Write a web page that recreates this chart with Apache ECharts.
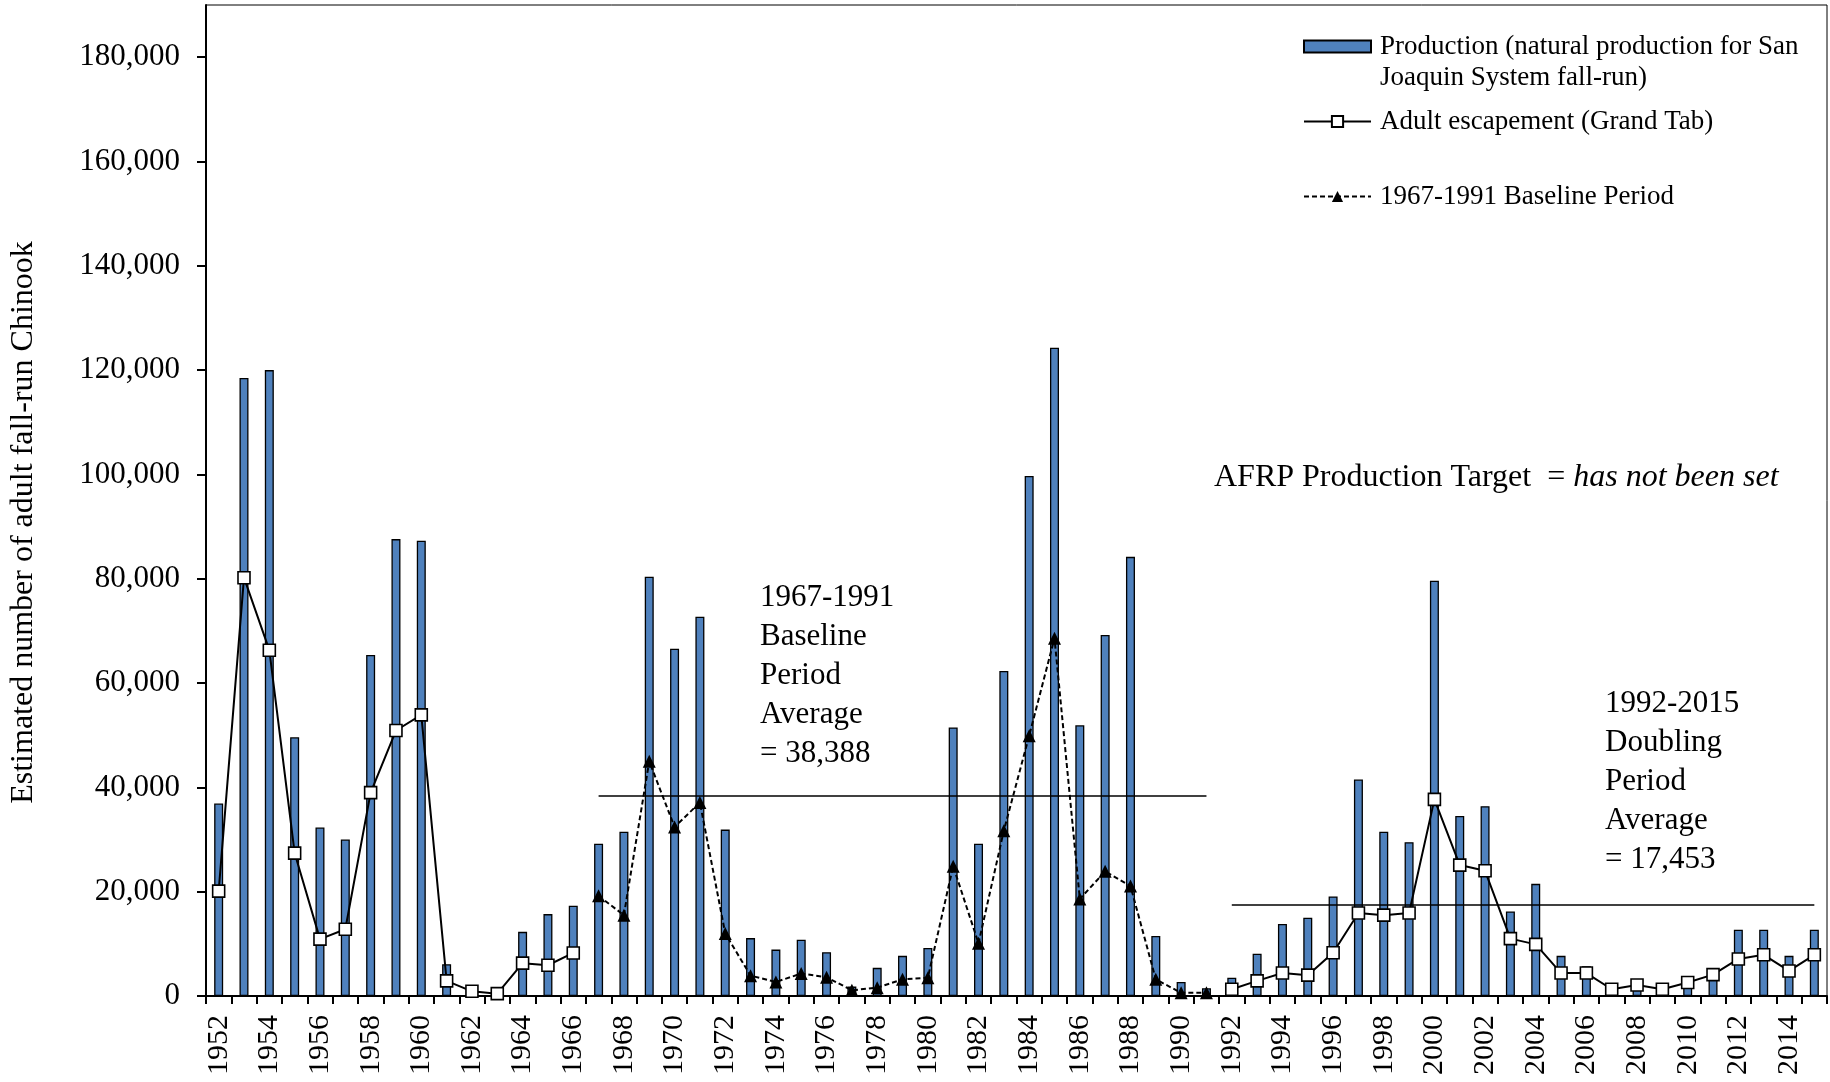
<!DOCTYPE html>
<html>
<head>
<meta charset="utf-8">
<title>San Joaquin System fall-run Chinook</title>
<script src="https://cdn.jsdelivr.net/npm/echarts@6/dist/echarts.min.js"></script>
<style>
  html, body { margin: 0; padding: 0; background: #ffffff; }
  #chart { width: 1830px; height: 1082px; }
</style>
</head>
<body>
<div id="chart"></div>
<script>
// Years on the category axis
const years = [];
for (let y = 1952; y <= 2015; y++) years.push(String(y));

// Natural production, San Joaquin System fall-run (1952-2015)
const production = [
  36900, 118500, 120000, 49600, 32300, 30000, 65400, 87600, 87300, 6100,
  300, 200, 12300, 15700, 17300, 29200, 31500, 80400, 66600, 72700,
  31900, 11100, 8900, 10800, 8400, 1800, 5400, 7700, 9200, 51500,
  29200, 62300, 99700, 124300, 51900, 69200, 84200, 11500, 2700, 1500,
  3500, 8100, 13800, 15000, 19100, 41500, 31500, 29500, 79600, 34500,
  36400, 16200, 21500, 7700, 5700, 1200, 1400, 500, 2800, 5300,
  12700, 12700, 7700, 12700
];

// Adult escapement (Grand Tab) outside the baseline period
const escapementEarly = [ // 1952-1966
  20100, 80200, 66300, 27400, 10900, 12800, 39000, 50900, 53900, 2900,
  900, 450, 6300, 5900, 8250
];
const escapementLate = [ // 1992-2015
  1300, 2900, 4400, 4000, 8300, 15900, 15500, 15900, 37700, 25100,
  24000, 11000, 9900, 4400, 4400, 1300, 2100, 1300, 2600, 4100,
  7100, 7900, 4800, 7900
];

// Adult escapement during the 1967-1991 baseline period
const escapementBaseline = [
  19200, 15500, 45000, 32400, 37100, 12000, 3900, 2700, 4300, 3600,
  1100, 1600, 3200, 3500, 24900, 10100, 31700, 49900, 68600, 18600,
  23900, 21100, 3200, 600, 600
];

// Period averages of production
const baselineAverage = 38388;   // 1967-1991
const doublingAverage = 17453;   // 1992-2015
const baselineRange = ['1967', '1991'];
const doublingRange = ['1992', '2015'];

// Value axis ticks
const yMin = 0, yMax = 190000, yStep = 20000;

const NAME_PROD = 'Production (natural production for San Joaquin System fall-run)';
const NAME_ESC = 'Adult escapement (Grand Tab)';
const NAME_BASE = '1967-1991 Baseline Period';

// Build the two line series over the full year axis (gaps as null)
const nBefore = years.indexOf(baselineRange[0]);
const nBaseline = escapementBaseline.length;
const escapementSeries = escapementEarly
  .concat(new Array(nBaseline).fill(null))
  .concat(escapementLate);
const baselineSeries = new Array(nBefore).fill(null)
  .concat(escapementBaseline)
  .concat(new Array(escapementLate.length).fill(null));

const fmt = v => v.toLocaleString('en-US');
const SERIF = '"Liberation Serif", "Times New Roman", serif';

const chart = echarts.init(document.getElementById('chart'), null, { renderer: 'canvas' });

const legendText = { fontFamily: SERIF, fontSize: 27, color: '#000', padding: [0, 0, 0, 4] };

chart.setOption({
  backgroundColor: '#ffffff',
  animation: false,
  textStyle: { fontFamily: SERIF, color: '#000' },
  grid: {
    left: 205, right: 3, top: 5, bottom: 86,
    show: true, borderColor: '#000', borderWidth: 1, backgroundColor: 'transparent'
  },
  legend: [
    {
      data: [{ name: NAME_PROD, icon: 'rect' }],
      left: 1303, top: 0, padding: 0,
      itemWidth: 67, itemHeight: 12,
      // leading blank line keeps the first text line level with the swatch
      formatter: () => '\nProduction (natural production for San\nJoaquin System fall-run)',
      textStyle: Object.assign({}, legendText, { lineHeight: 31 })
    },
    {
      data: [NAME_ESC],
      left: 1303, top: 108, padding: 0,
      itemWidth: 67, itemHeight: 14,
      textStyle: legendText
    },
    {
      data: [NAME_BASE],
      left: 1303, top: 183, padding: 0,
      itemWidth: 67, itemHeight: 14,
      textStyle: legendText
    }
  ],
  xAxis: {
    type: 'category',
    data: years,
    boundaryGap: true,
    axisLine: { lineStyle: { color: '#000', width: 2 } },
    axisTick: { show: true, interval: 0, length: 8, lineStyle: { color: '#000', width: 2 } },
    axisLabel: {
      interval: 1, rotate: 90, margin: 19,
      fontFamily: SERIF, fontSize: 30, color: '#000'
    },
    splitLine: { show: false }
  },
  yAxis: {
    type: 'value',
    min: yMin, max: yMax, interval: yStep,
    name: 'Estimated number of adult fall-run Chinook',
    nameLocation: 'middle',
    nameGap: 166,
    nameTextStyle: { fontFamily: SERIF, fontSize: 32, color: '#000', padding: [0, 44, 0, 0] },
    axisLine: { show: true, lineStyle: { color: '#000', width: 2 } },
    axisTick: { show: true, length: 9, lineStyle: { color: '#000', width: 2 } },
    axisLabel: {
      margin: 26, fontFamily: SERIF, fontSize: 31, color: '#000',
      showMaxLabel: false,
      formatter: v => (v > 180000 ? '' : fmt(v))
    },
    splitLine: { show: false }
  },
  series: [
    {
      name: NAME_PROD,
      type: 'bar',
      data: production,
      barWidth: 9,
      itemStyle: { color: '#4F81BD', borderColor: '#000', borderWidth: 1.3 }
    },
    {
      name: NAME_ESC,
      type: 'line',
      data: escapementSeries,
      connectNulls: false,
      symbol: 'rect',
      symbolSize: 12,
      showAllSymbol: true,
      lineStyle: { color: '#000', width: 2 },
      itemStyle: { color: '#ffffff', borderColor: '#000', borderWidth: 1.6 },
      z: 4
    },
    {
      name: NAME_BASE,
      type: 'line',
      data: baselineSeries,
      connectNulls: false,
      symbol: 'triangle',
      symbolSize: 13,
      showAllSymbol: true,
      lineStyle: { color: '#000', width: 2, type: [5, 3] },
      itemStyle: { color: '#000' },
      z: 4,
      markLine: {
        silent: true,
        symbol: 'none',
        label: { show: false },
        lineStyle: { color: '#000', width: 1.6, type: 'solid' },
        data: [
          [{ coord: [baselineRange[0], baselineAverage] }, { coord: [baselineRange[1], baselineAverage] }],
          [{ coord: [doublingRange[0], doublingAverage] }, { coord: [doublingRange[1], doublingAverage] }]
        ]
      }
    }
  ],
  graphic: [
    {
      type: 'text', left: 760, top: 578, silent: true,
      style: {
        text: '1967-1991\nBaseline\nPeriod\nAverage\n= ' + fmt(baselineAverage),
        font: '31px ' + SERIF, lineHeight: 39, fill: '#000'
      }
    },
    {
      type: 'text', left: 1605, top: 684, silent: true,
      style: {
        text: '1992-2015\nDoubling\nPeriod\nAverage\n= ' + fmt(doublingAverage),
        font: '31px ' + SERIF, lineHeight: 39, fill: '#000'
      }
    },
    {
      type: 'text', left: 1214, top: 462, silent: true,
      style: {
        text: '{n|AFRP Production Target  = }{i|has not been set}',
        rich: {
          n: { fontFamily: SERIF, fontSize: 32, lineHeight: 36, fill: '#000', color: '#000' },
          i: { fontFamily: SERIF, fontSize: 32, fontStyle: 'italic', lineHeight: 36, fill: '#000', color: '#000' }
        }
      }
    }
  ]
});
</script>
</body>
</html>
